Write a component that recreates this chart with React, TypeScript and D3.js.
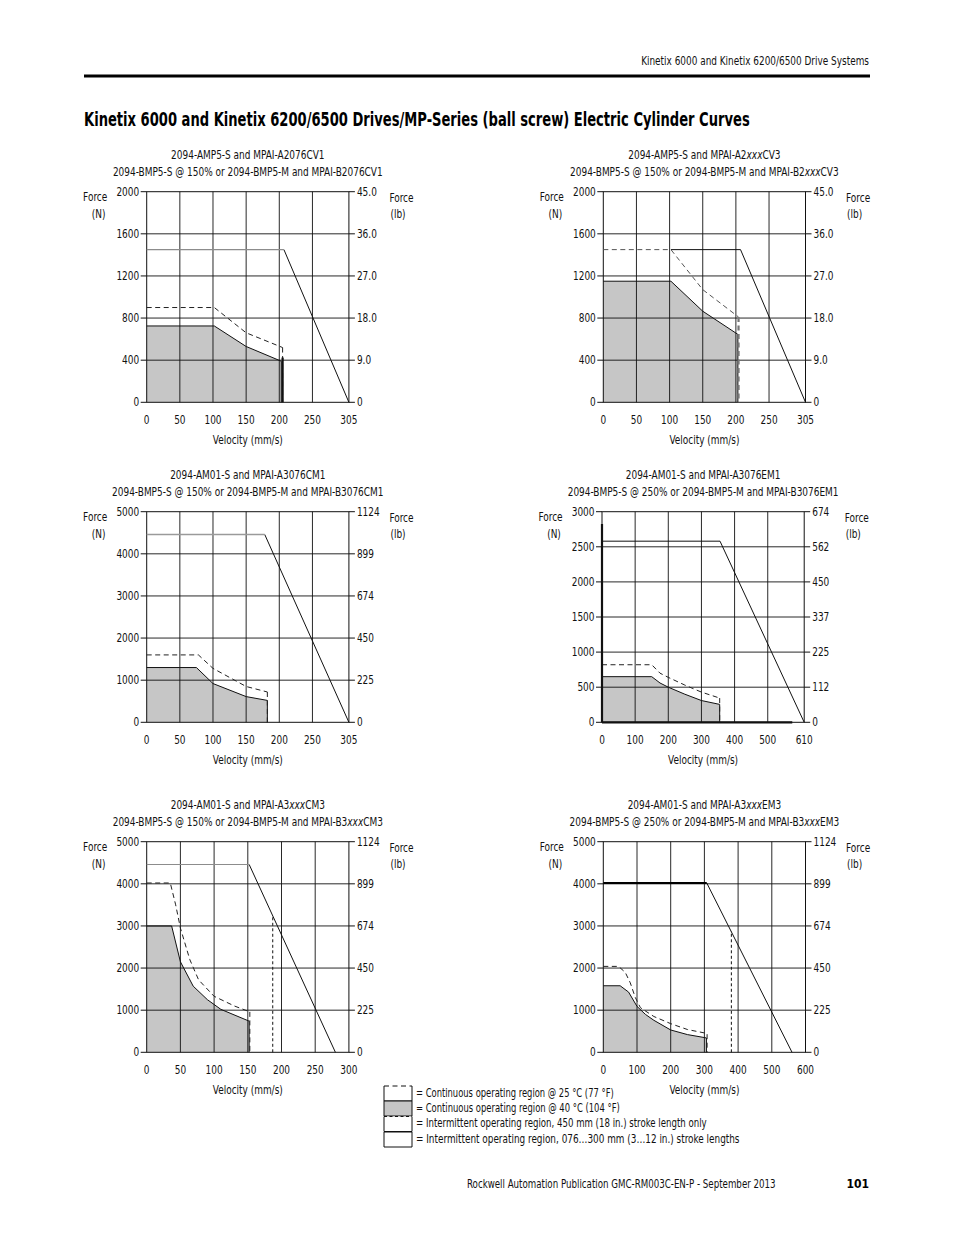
import React, { useLayoutEffect, useRef } from 'react';
import * as d3 from 'd3';

type Pt = [number, number];

const FONT = "'Liberation Sans Narrow', 'DejaVu Sans Condensed', 'Roboto Condensed', 'Arial Narrow', sans-serif";

// ---------- header / footer text ----------
const headerText = 'Kinetix 6000 and Kinetix 6200/6500 Drive Systems';
const pageTitle = 'Kinetix 6000 and Kinetix 6200/6500 Drives/MP-Series (ball screw) Electric Cylinder Curves';
const footerText = 'Rockwell Automation Publication GMC-RM003C-EN-P - September 2013';
const pageNumber = '101';
const legendLabels = [
  '= Continuous operating region @ 25 °C (77 °F)',
  '= Continuous operating region @ 40 °C (104 °F)',
  '= Intermittent operating region, 450 mm (18 in.) stroke length only',
  '= Intermittent operating region, 076…300 mm (3…12 in.) stroke lengths',
];

// ---------- chart 1 ----------
const c1Titles = ['2094-AMP5-S and MPAI-A2076CV1', '2094-BMP5-S @ 150% or 2094-BMP5-M and MPAI-B2076CV1'];
const c1XTicks = [0, 50, 100, 150, 200, 250, 305];
const c1YTicks = [0, 400, 800, 1200, 1600, 2000];
const c1YRight = ['0', '9.0', '18.0', '27.0', '36.0', '45.0'];
const c1Intermittent: Pt[] = [[0, 1450], [207, 1450], [305, 0]];
const c1Cont25: Pt[] = [[0, 900], [102, 900], [150, 660], [205, 520]];
const c1Cont40: Pt[] = [[0, 725], [102, 725], [150, 530], [203, 390]];
const c1Bold: Pt[] = [[205, 0], [205, 425]];

// ---------- chart 2 ----------
const c2Titles = ['2094-AMP5-S and MPAI-A2*xxx*CV3', '2094-BMP5-S @ 150% or 2094-BMP5-M and MPAI-B2*xxx*CV3'];
const c2XTicks = [0, 50, 100, 150, 200, 250, 305];
const c2YTicks = [0, 400, 800, 1200, 1600, 2000];
const c2YRight = ['0', '9.0', '18.0', '27.0', '36.0', '45.0'];
const c2Intermittent: Pt[] = [[0, 1450], [207, 1450], [305, 0]];
const c2Cont25: Pt[] = [[0, 1450], [102, 1450], [150, 1070], [204, 810]];
const c2Cont40: Pt[] = [[0, 1150], [102, 1150], [150, 865], [203, 645]];

// ---------- chart 3 ----------
const c3Titles = ['2094-AM01-S and MPAI-A3076CM1', '2094-BMP5-S @ 150% or 2094-BMP5-M and MPAI-B3076CM1'];
const c3XTicks = [0, 50, 100, 150, 200, 250, 305];
const c3YTicks = [0, 1000, 2000, 3000, 4000, 5000];
const c3YRight = ['0', '225', '450', '674', '899', '1124'];
const c3Intermittent: Pt[] = [[0, 4460], [178, 4460], [305, 0]];
const c3Cont25: Pt[] = [[0, 1600], [78, 1600], [100, 1280], [150, 850], [182, 720]];
const c3Cont40: Pt[] = [[0, 1300], [75, 1300], [100, 920], [150, 610], [182, 520]];

// ---------- chart 4 ----------
const c4Titles = ['2094-AM01-S and MPAI-A3076EM1', '2094-BMP5-S @ 250% or 2094-BMP5-M and MPAI-B3076EM1'];
const c4XTicks = [0, 100, 200, 300, 400, 500, 610];
const c4YTicks = [0, 500, 1000, 1500, 2000, 2500, 3000];
const c4YRight = ['0', '112', '225', '337', '450', '562', '674'];
const c4Intermittent: Pt[] = [[0, 2580], [356, 2580], [610, 0]];
const c4Cont25: Pt[] = [[0, 820], [150, 820], [175, 700], [200, 640], [250, 530], [300, 430], [355, 345]];
const c4Cont40: Pt[] = [[0, 650], [150, 650], [175, 560], [200, 500], [250, 400], [300, 310], [355, 255]];
const c4BoldLeft: Pt[] = [[0, 0], [0, 2825]];
const c4BoldBottom: Pt[] = [[0, 0], [574, 0]];

// ---------- chart 5 ----------
const c5Titles = ['2094-AM01-S and MPAI-A3*xxx*CM3', '2094-BMP5-S @ 150% or 2094-BMP5-M and MPAI-B3*xxx*CM3'];
const c5XTicks = [0, 50, 100, 150, 200, 250, 300];
const c5YTicks = [0, 1000, 2000, 3000, 4000, 5000];
const c5YRight = ['0', '225', '450', '674', '899', '1124'];
const c5Intermittent: Pt[] = [[0, 4460], [152, 4460], [280, 0]];
const c5Cont25: Pt[] = [[0, 4020], [35, 4020], [43, 3500], [50, 2950], [64, 2200], [77, 1720], [100, 1330], [130, 1100], [153, 960]];
const c5Cont40: Pt[] = [[0, 3000], [37, 3000], [50, 2150], [69, 1570], [90, 1250], [110, 1020], [152, 740]];
const c5Stroke450: Pt[] = [[187, 0], [187, 3230]];

// ---------- chart 6 ----------
const c6Titles = ['2094-AM01-S and MPAI-A3*xxx*EM3', '2094-BMP5-S @ 250% or 2094-BMP5-M and MPAI-B3*xxx*EM3'];
const c6XTicks = [0, 100, 200, 300, 400, 500, 600];
const c6YTicks = [0, 1000, 2000, 3000, 4000, 5000];
const c6YRight = ['0', '225', '450', '674', '899', '1124'];
const c6Intermittent: Pt[] = [[0, 4020], [307, 4020], [560, 0]];
const c6Cont25: Pt[] = [[0, 2040], [45, 2040], [65, 1900], [80, 1650], [95, 1300], [110, 1060], [150, 850], [200, 680], [250, 540], [300, 460], [308, 430]];
const c6Cont40: Pt[] = [[0, 1580], [50, 1580], [75, 1430], [100, 1090], [125, 900], [150, 760], [200, 530], [250, 420], [300, 350], [306, 340]];
const c6Stroke450: Pt[] = [[380, 0], [380, 2880]];

type ChartCfg = {
  titles: string[];
  xTicks: number[];
  yTicks: number[];
  yRight: string[];
  intermittent: Pt[];
  cont25: Pt[];
  cont40: Pt[];
  stroke450?: Pt[];
  bold?: Pt[][];
  left: number;
  top: number;
  flatColor: string;
  flatWidth: number;
  flatFrom: number;
  dashColor: string;
  dropColor: string;
  dropWidth: number;
};

const W = 202.2;
const H = 210.6;
const SQ = 0.83;
const FS = 12;

const charts: ChartCfg[] = [
  { titles: c1Titles, xTicks: c1XTicks, yTicks: c1YTicks, yRight: c1YRight, intermittent: c1Intermittent, cont25: c1Cont25, cont40: c1Cont40, bold: [c1Bold], left: 146.7, top: 191.7, flatColor: '#8c8c8c', flatWidth: 1.1, flatFrom: 0, dashColor: '#222', dropColor: '#222', dropWidth: 1 },
  { titles: c2Titles, xTicks: c2XTicks, yTicks: c2YTicks, yRight: c2YRight, intermittent: c2Intermittent, cont25: c2Cont25, cont40: c2Cont40, left: 603.3, top: 191.7, flatColor: '#111', flatWidth: 1, flatFrom: 102, dashColor: '#555', dropColor: '#777', dropWidth: 2.2 },
  { titles: c3Titles, xTicks: c3XTicks, yTicks: c3YTicks, yRight: c3YRight, intermittent: c3Intermittent, cont25: c3Cont25, cont40: c3Cont40, left: 146.7, top: 511.7, flatColor: '#9a9a9a', flatWidth: 1.5, flatFrom: 0, dashColor: '#222', dropColor: '#222', dropWidth: 1 },
  { titles: c4Titles, xTicks: c4XTicks, yTicks: c4YTicks, yRight: c4YRight, intermittent: c4Intermittent, cont25: c4Cont25, cont40: c4Cont40, bold: [c4BoldLeft, c4BoldBottom], left: 602, top: 511.7, flatColor: '#111', flatWidth: 1, flatFrom: 0, dashColor: '#222', dropColor: '#222', dropWidth: 1 },
  { titles: c5Titles, xTicks: c5XTicks, yTicks: c5YTicks, yRight: c5YRight, intermittent: c5Intermittent, cont25: c5Cont25, cont40: c5Cont40, stroke450: c5Stroke450, left: 146.7, top: 841.7, flatColor: '#8c8c8c', flatWidth: 1.1, flatFrom: 0, dashColor: '#222', dropColor: '#222', dropWidth: 1 },
  { titles: c6Titles, xTicks: c6XTicks, yTicks: c6YTicks, yRight: c6YRight, intermittent: c6Intermittent, cont25: c6Cont25, cont40: c6Cont40, stroke450: c6Stroke450, left: 603.3, top: 841.7, flatColor: '#000', flatWidth: 2, flatFrom: 0, dashColor: '#222', dropColor: '#222', dropWidth: 1 },
];

// Squeezed text: scaled horizontally about its anchor x (condensed look).
function SText({ x, y, anchor = 'start', f = SQ, size = FS, weight = 'normal', children }:
  { x: number; y: number; anchor?: string; f?: number; size?: number; weight?: string; children: React.ReactNode }) {
  return (
    <text x={x} y={y} textAnchor={anchor} fontFamily={FONT} fontSize={size} fontWeight={weight} fill="#111"
      transform={`matrix(${f},0,0,1,${x * (1 - f)},0)`}>
      {children}
    </text>
  );
}

function TitleText({ text, x, y }: { text: string; x: number; y: number }) {
  const parts = text.split('*');
  return (
    <SText x={x} y={y} anchor="middle">
      {parts.map((p, i) => (
        <tspan key={i} fontStyle={i % 2 === 1 ? 'italic' : 'normal'}>{p}</tspan>
      ))}
    </SText>
  );
}

function Chart({ cfg }: { cfg: ChartCfg }) {
  const { left, top } = cfg;
  const right = left + W;
  const bottom = top + H;
  const xMax = cfg.xTicks[cfg.xTicks.length - 1];
  const yMax = cfg.yTicks[cfg.yTicks.length - 1];
  const x = d3.scaleLinear().domain([0, xMax]).range([left, right]);
  const y = d3.scaleLinear().domain([0, yMax]).range([bottom, top]);
  const line = d3.line<Pt>().x((d) => x(d[0])).y((d) => y(d[1]));
  const area = d3.area<Pt>().x((d) => x(d[0])).y0(y(0)).y1((d) => y(d[1]));
  const last40 = cfg.cont40[cfg.cont40.length - 1];
  const last25 = cfg.cont25[cfg.cont25.length - 1];
  const [p0, p1] = cfg.intermittent;
  const flat: Pt[] = [[Math.max(p0[0], cfg.flatFrom), p0[1]], p1];
  const cx = (left + right) / 2;
  return (
    <g>
      <TitleText text={cfg.titles[0]} x={cx} y={top - 32.5} />
      <TitleText text={cfg.titles[1]} x={cx} y={top - 16} />
      {/* fill */}
      <path d={area(cfg.cont40) || ''} fill="#c6c6c6" stroke="none" />
      {/* grid */}
      {cfg.xTicks.slice(1, -1).map((t) => (
        <line key={'gx' + t} x1={x(t)} x2={x(t)} y1={top} y2={bottom} stroke="#111" strokeWidth={0.9} />
      ))}
      {cfg.yTicks.slice(1, -1).map((t) => (
        <line key={'gy' + t} x1={left} x2={right} y1={y(t)} y2={y(t)} stroke="#111" strokeWidth={0.9} />
      ))}
      <rect x={left} y={top} width={W} height={H} fill="none" stroke="#111" strokeWidth={1} />
      {/* outer ticks */}
      {cfg.yTicks.map((t) => (
        <g key={'yt' + t}>
          <line x1={left - 6} x2={left} y1={y(t)} y2={y(t)} stroke="#111" strokeWidth={1} />
          <line x1={right} x2={right + 6} y1={y(t)} y2={y(t)} stroke="#111" strokeWidth={1} />
          <SText x={left - 7.5} y={y(t) + 4.2} anchor="end">{t}</SText>
        </g>
      ))}
      {cfg.yRight.map((lab, i) => (
        <SText key={'yr' + i} x={right + 8} y={y(cfg.yTicks[i]) + 4.2}>{lab}</SText>
      ))}
      {cfg.xTicks.map((t) => (
        <SText key={'xt' + t} x={x(t)} y={bottom + 21.5} anchor="middle">{t}</SText>
      ))}
      <SText x={cx} y={bottom + 41.5} anchor="middle">Velocity (mm/s)</SText>
      <SText x={left - 51.5} y={top + 9.5} anchor="middle">Force</SText>
      <SText x={left - 48} y={top + 26} anchor="middle">(N)</SText>
      <SText x={right + 40.5} y={top + 10}>Force</SText>
      <SText x={right + 41.5} y={top + 26.5}>(lb)</SText>
      {/* continuous 40C outline */}
      <path d={line([...cfg.cont40, [last40[0], 0]]) || ''} fill="none" stroke="#111" strokeWidth={1} />
      {/* intermittent */}
      <path d={line(cfg.intermittent.slice(1)) || ''} fill="none" stroke="#111" strokeWidth={1} />
      <path d={line(flat) || ''} fill="none" stroke={cfg.flatColor} strokeWidth={cfg.flatWidth} />
      {/* continuous 25C dashed */}
      <path d={line(cfg.cont25) || ''} fill="none" stroke={cfg.dashColor} strokeWidth={1} strokeDasharray="5,3.5" />
      <path d={line([last25, [last25[0], 0]]) || ''} fill="none" stroke={cfg.dropColor} strokeWidth={cfg.dropWidth} strokeDasharray="5,3.5" />
      {cfg.stroke450 && (
        <path d={line(cfg.stroke450) || ''} fill="none" stroke="#111" strokeWidth={1} strokeDasharray="3,2.5" />
      )}
      {cfg.bold && cfg.bold.map((b, i) => (
        <path key={'b' + i} d={line(b) || ''} fill="none" stroke="#111" strokeWidth={2.2} />
      ))}
    </g>
  );
}

export default function App() {
  const ref = useRef<SVGSVGElement>(null);
  // fit texts with a target width (data-w) by horizontal scaling about their anchor
  useLayoutEffect(() => {
    const svg = ref.current;
    if (!svg) return;
    svg.querySelectorAll('text[data-w]').forEach((el: any) => {
      const target = parseFloat(el.getAttribute('data-w'));
      const ax = parseFloat(el.getAttribute('x'));
      const w = el.getComputedTextLength();
      if (w > 0) {
        const f = target / w;
        el.setAttribute('transform', `matrix(${f},0,0,1,${ax * (1 - f)},0)`);
      }
    });
  }, []);
  const legendX = 384;
  const legendRows = [1086, 1101, 1116.5, 1132];
  const legendH = [15, 15, 15, 15];
  const legendTextW = [198, 204, 291, 324];
  return (
    <svg ref={ref} width={954} height={1235} viewBox="0 0 954 1235" style={{ position: 'absolute', left: 0, top: 0, background: '#fff' }}>
      <rect x={0} y={0} width={954} height={1235} fill="#fff" />
      <text x={869} y={65} textAnchor="end" fontFamily={FONT} fontSize={12} fill="#111" data-w={228}>{headerText}</text>
      <line x1={84} x2={870} y1={76} y2={76} stroke="#000" strokeWidth={3} />
      <text x={84} y={126} fontFamily={FONT} fontSize={20} fontWeight="bold" fill="#000" data-w={666}>{pageTitle}</text>
      {charts.map((c, i) => (
        <Chart key={i} cfg={c} />
      ))}
      {/* legend */}
      <g>
        {legendRows.map((ry, i) => (
          <g key={'lg' + i}>
            <rect x={legendX} y={ry} width={28} height={legendH[i]} fill={i === 1 ? '#c6c6c6' : '#fff'} stroke="none" />
            <line x1={legendX} x2={legendX} y1={ry} y2={ry + legendH[i]} stroke="#111" strokeWidth={1} />
            <line x1={legendX + 28} x2={legendX + 28} y1={ry} y2={ry + legendH[i]} stroke="#111" strokeWidth={1} />
            <line x1={legendX} x2={legendX + 28} y1={ry + legendH[i]} y2={ry + legendH[i]} stroke="#111" strokeWidth={1} />
            <line x1={legendX} x2={legendX + 28} y1={ry} y2={ry} stroke="#111" strokeWidth={1}
              strokeDasharray={i === 0 ? '5,3.5' : i === 2 ? '3,2.5' : undefined} />
            <text x={416} y={ry + 11} fontFamily={FONT} fontSize={11.5} fill="#111" data-w={legendTextW[i]}>{legendLabels[i]}</text>
          </g>
        ))}
      </g>
      <text x={467} y={1188} fontFamily={FONT} fontSize={12} fill="#111" data-w={309}>{footerText}</text>
      <text x={869} y={1188} textAnchor="end" fontFamily={FONT} fontSize={12} fontWeight="bold" fill="#000">{pageNumber}</text>
    </svg>
  );
}
